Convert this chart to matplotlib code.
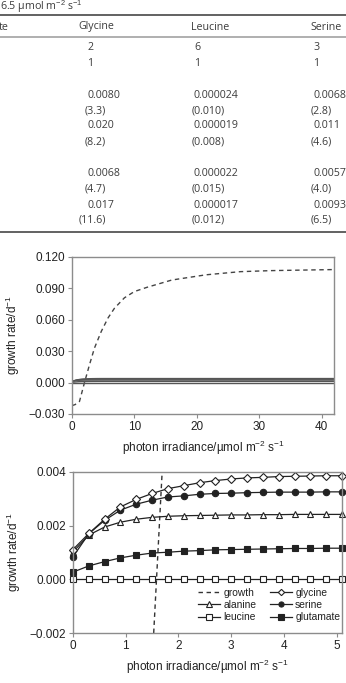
import matplotlib
matplotlib.use("Agg")
import matplotlib.pyplot as plt
from matplotlib.lines import Line2D
from matplotlib.ticker import FuncFormatter

W, H = 346, 683

# ---- table (top, cropped) ----
table_title = "6.5 \u00b5mol m$^{-2}$ s$^{-1}$"
first_header = "te"
table_cols = ["Glycine", "Leucine", "Serine"]
glycine_col = ["2", "1", "0.0080", "(3.3)", "0.020", "(8.2)", "0.0068", "(4.7)", "0.017", "(11.6)"]
leucine_col = ["6", "1", "0.000024", "(0.010)", "0.000019", "(0.008)", "0.000022", "(0.015)", "0.000017", "(0.012)"]
serine_col = ["3", "1", "0.0068", "(2.8)", "0.011", "(4.6)", "0.0057", "(4.0)", "0.0093", "(6.5)"]

# ---- curves ----
# full range (top panel), dashed growth curve
growth_x = [0, 0.5, 1.2, 2.0, 2.8, 3.6, 4.7, 5.8, 6.8, 8.4, 10, 12, 16, 21.5, 27, 32, 42]
growth_y = [-0.022, -0.021, -0.018, 0.0, 0.017, 0.033, 0.049, 0.062, 0.071, 0.081, 0.087,
            0.091, 0.098, 0.103, 0.106, 0.107, 0.108]
# growth seen in the zoomed panel
growth_zoom_x = [1.53, 1.69]
growth_zoom_y = [-0.002, 0.004]

irr = [0, 0.3, 0.6, 0.9, 1.2, 1.5, 1.8, 2.1, 2.4, 2.7, 3.0, 3.3, 3.6, 3.9, 4.2, 4.5, 4.8, 5.1]
glycine = [0.00111, 0.00171, 0.00224, 0.0027, 0.00298, 0.0032, 0.00338, 0.00349, 0.0036, 0.00368,
           0.00374, 0.00378, 0.0038, 0.00383, 0.00384, 0.00385, 0.00386, 0.00386]
alanine = [0.00102, 0.00165, 0.00195, 0.00213, 0.00224, 0.00231, 0.00235, 0.00237, 0.00238, 0.00239,
           0.0024, 0.0024, 0.00241, 0.00241, 0.00242, 0.00242, 0.00242, 0.00242]
serine = [0.00084, 0.0017, 0.0022, 0.00258, 0.0028, 0.00295, 0.00307, 0.00311, 0.00317, 0.0032,
          0.00321, 0.00323, 0.00324, 0.00325, 0.00325, 0.00325, 0.00326, 0.00326]
leucine = [0.00002, 0.00002, 0.00002, 0.00002, 0.00002, 0.00002, 0.00002, 0.00002, 0.00002, 0.00002,
           0.00002, 0.00002, 0.00002, 0.00002, 0.00002, 0.00002, 0.00002, 0.00002]
glutamate = [0.00027, 0.0005, 0.00066, 0.0008, 0.0009, 0.00098, 0.00101, 0.00105, 0.00107, 0.0011,
             0.00111, 0.00112, 0.00113, 0.00114, 0.00115, 0.00115, 0.00116, 0.00116]
# plateau values at the end of the top panel
plateau_x = 42
plateau = {"glycine": 0.00387, "alanine": 0.00243, "serine": 0.00327,
           "leucine": 0.00002, "glutamate": 0.00117}

plt.rcParams["font.family"] = ["Liberation Sans", "DejaVu Sans"]
plt.rcParams["mathtext.fontset"] = "custom"
plt.rcParams["mathtext.rm"] = "Liberation Sans"
plt.rcParams["mathtext.it"] = "Liberation Sans:italic"

fig = plt.figure(figsize=(W / 100, H / 100), dpi=100)


def fx(px):
    return px / W


def fy(py):
    return 1 - py / H


tfont = dict(family=["Open Sans", "DejaVu Sans"], fontsize=7.7, color="#3c3c3c")

fig.text(fx(0), fy(7), table_title, ha="left", va="center", **tfont)
fig.add_artist(Line2D([0, 1], [fy(15), fy(15)], transform=fig.transFigure, color="#555555", lw=1.3))
fig.add_artist(Line2D([0, 1], [fy(37), fy(37)], transform=fig.transFigure, color="#9a9a9a", lw=1.1))
fig.add_artist(Line2D([0, 1], [fy(232), fy(232)], transform=fig.transFigure, color="#555555", lw=1.3))

fig.text(fx(-1), fy(27), first_header, ha="left", va="center", **tfont)
header_x = [78, 191, 310]
num_x = [87, 194, 313]
paren_x = [106, 225, 332]
row_y = [48, 64, 95, 111, 126, 142, 173, 189, 205, 220]
for name, hx, nx, px, col in zip(table_cols, header_x, num_x, paren_x,
                                 [glycine_col, leucine_col, serine_col]):
    fig.text(fx(hx), fy(27), name, ha="left", va="center", **tfont)
    for val, ry in zip(col, row_y):
        if val.startswith("("):
            fig.text(fx(px), fy(ry), val, ha="right", va="center", **tfont)
        else:
            fig.text(fx(nx), fy(ry), val, ha="left", va="center", **tfont)


def fmt(v, pos):
    s = f"{v:.3f}"
    if s == "-0.000":
        s = "0.000"
    return s.replace("-", "\u2212")


def style(ax):
    for sp in ax.spines.values():
        sp.set_color("#8c8c8c")
        sp.set_linewidth(1.0)
    ax.tick_params(direction="out", length=3, width=0.8, color="#8c8c8c",
                   labelsize=8.5, labelcolor="#222222", pad=2)
    ax.yaxis.set_major_formatter(FuncFormatter(fmt))


xlabel = "photon irradiance/\u00b5mol m$^{-2}$ s$^{-1}$"
ylabel = "growth rate/d$^{-1}$"
ink = "#222222"
dash = (0, (3.2, 2.6))

# ---- top panel ----
ax1 = fig.add_axes([fx(72), fy(414), (334 - 72) / W, (414 - 257) / H])
ax1.plot(growth_x, growth_y, color="#444444", lw=1.0, linestyle=dash)
for key, ys in [("glycine", glycine), ("alanine", alanine), ("serine", serine),
                ("leucine", leucine), ("glutamate", glutamate)]:
    ax1.plot(irr + [plateau_x], ys + [plateau[key]], color="#555555", lw=1.0)
ax1.set_xlim(0, 42)
ax1.set_ylim(-0.030, 0.120)
ax1.set_xticks([0, 10, 20, 30, 40])
ax1.set_yticks([-0.030, 0.0, 0.030, 0.060, 0.090, 0.120])
style(ax1)
ax1.set_xlabel(xlabel, fontsize=8.5, color=ink, labelpad=4)
ax1.set_ylabel(ylabel, fontsize=8.5, color=ink, labelpad=5)

# ---- bottom panel ----
ax2 = fig.add_axes([fx(73), fy(633), (342 - 73) / W, (633 - 472) / H])
mk = dict(color=ink, lw=0.9, ms=4.6, mec=ink, mew=0.8, clip_on=False)
h_growth, = ax2.plot(growth_zoom_x, growth_zoom_y, color="#333333", lw=1.0, linestyle=dash,
                     label="growth")
h_leu, = ax2.plot(irr, leucine, marker="s", mfc="white", label="leucine", **mk)
h_glu, = ax2.plot(irr, glutamate, marker="s", mfc=ink, label="glutamate", **mk)
h_ala, = ax2.plot(irr, alanine, marker="^", mfc="white", label="alanine", **mk)
h_ser, = ax2.plot(irr, serine, marker="o", mfc=ink, label="serine", **mk)
h_gly, = ax2.plot(irr, glycine, marker="D", mfc="white", label="glycine",
                  **{**mk, "ms": 4.0})
ax2.set_xlim(0, 5.1)
ax2.set_ylim(-0.002, 0.004)
ax2.set_xticks([0, 1, 2, 3, 4, 5])
ax2.set_yticks([-0.002, 0.0, 0.002, 0.004])
style(ax2)
ax2.set_xlabel(xlabel, fontsize=8.5, color=ink, labelpad=4)
ax2.set_ylabel(ylabel, fontsize=8.5, color=ink, labelpad=5)

leg = ax2.legend(handles=[h_growth, h_ala, h_leu, h_gly, h_ser, h_glu], ncol=2,
                 loc="lower right", bbox_to_anchor=(0.997, 0.06), frameon=False,
                 fontsize=7.4, handlelength=2.1, handletextpad=0.35, columnspacing=1.3,
                 labelspacing=0.22, borderpad=0.1, borderaxespad=0, markerscale=0.8)
for t in leg.get_texts():
    t.set_color(ink)

fig.savefig("out.png", dpi=100)
